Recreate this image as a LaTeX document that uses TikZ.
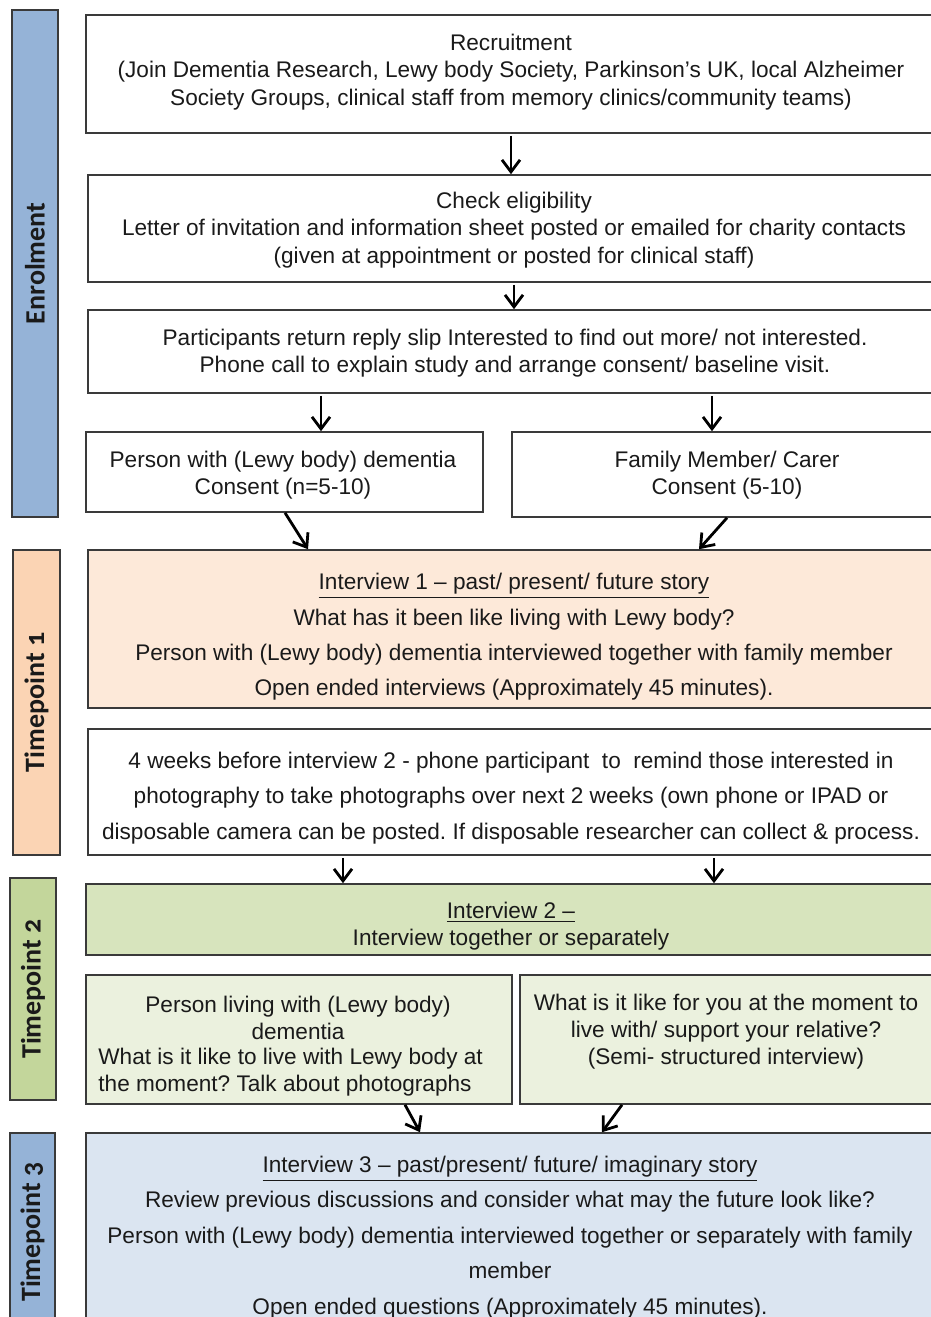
\documentclass[tikz,border=0pt]{standalone}
\usepackage{fontspec}
\setmainfont{Liberation Sans}
\newfontfamily\calib[Numbers=OldStyle]{Carlito}
\usetikzlibrary{arrows.meta,fit}
\frenchspacing
\definecolor{sideblue}{HTML}{95B3D7}
\definecolor{sidepeach}{HTML}{FBD4B4}
\definecolor{sidegreen}{HTML}{C3D69B}
\definecolor{lpeach}{HTML}{FDE9D9}
\definecolor{lgreen}{HTML}{D7E4BD}
\definecolor{vlgreen}{HTML}{EBF1DE}
\definecolor{lblue}{HTML}{DBE5F1}
\definecolor{edge}{HTML}{3A3A3A}
\definecolor{ink}{HTML}{1A1A1A}
\tikzset{
  box/.style={draw=edge, line width=0.8pt, inner sep=0pt},
  side/.style={draw=edge, line width=0.9pt, inner sep=0pt},
  txt/.style={align=center, inner sep=0pt, text=ink, font=\frenchspacing\fontsize{11.3}{13.6}\selectfont},
  wtxt/.style={align=center, inner sep=0pt, text=ink, font=\frenchspacing\fontsize{11.3}{17.7}\selectfont},
  sidetxt/.style={rotate=90, inner sep=0pt, text=ink, font=\calib\bfseries\fontsize{14}{16}\selectfont},
  arr/.style={draw=black, line width=1.4pt, -{Straight Barb[length=6pt,width=9pt,line width=1.4pt]}}
}
\begin{document}
\begin{tikzpicture}[x=0.5pt,y=-0.5pt]
\useasboundingbox (0,0) rectangle (931,1317);
\fill[white] (0,0) rectangle (931,1317);
\clip (0,0) rectangle (931,1317);
% sidebars
\node[side, fill=sideblue, fit={(12,10) (58,517)}] (s0) {};
\node[sidetxt] (s0t) at (s0.center) {Enrolment};
\node[side, fill=sidepeach, fit={(13,550) (60,855)}] (s1) {};
\node[sidetxt] (s1t) at (s1.center) {Timepoint 1};
\node[side, fill=sidegreen, fit={(10,878) (56,1100)}] (s2) {};
\node[sidetxt] (s2t) at (s2.center) {Timepoint 2};
\node[side, fill=sideblue, fit={(10,1133) (55,1340)}] (s3) {};
\node[sidetxt] (s3t) at (32.5,1232) {Timepoint 3};
% boxes
\node[box, fit={(86,15) (945,133)}] (b1) {};
\node[txt] (t1) at (511,72) {Recruitment\\(Join Dementia Research, Lewy body Society, Parkinson’s UK, local Alzheimer\\Society Groups, clinical staff from memory clinics/community teams)};
\node[box, fit={(88,175) (945,282)}] (b2) {};
\node[txt] (t2) at (514,230) {Check eligibility\\Letter of invitation and information sheet posted or emailed for charity contacts\\(given at appointment or posted for clinical staff)};
\node[box, fit={(88,310) (945,393)}] (b3) {};
\node[txt] (t3) at (515,353) {Participants return reply slip Interested to find out more/ not interested.\\Phone call to explain study and arrange consent/ baseline visit.};
\node[box, fit={(86,432) (483,512)}] (b4a) {};
\node[txt] (t4a) at (283,475) {Person with (Lewy body) dementia\\Consent (n=5-10)};
\node[box, fit={(512,432) (945,517)}] (b4b) {};
\node[txt] (t4b) at (727,475) {Family Member/ Carer\\Consent (5-10)};
\node[box, fill=lpeach, fit={(88,550) (945,708)}] (b5) {};
\node[wtxt] (t5) at (514,637) {\underline{Interview 1 – past/ present/ future story}\\What has it been like living with Lewy body?\\Person with (Lewy body) dementia interviewed together with family member\\Open ended interviews (Approximately 45 minutes).};
\node[box, fit={(88,729) (945,855)}] (b6) {};
\node[wtxt] (t6) at (511,798) {4 weeks before interview 2 - phone participant\ \ to\ \ remind those interested in\\photography to take photographs over next 2 weeks (own phone or IPAD or\\disposable camera can be posted. If disposable researcher can collect \& process.};
\node[box, fill=lgreen, fit={(86,884) (945,955)}] (b7) {};
\node[txt] (t7) at (511,926) {\underline{Interview 2 –}\\Interview together or separately};
\node[box, fill=vlgreen, fit={(86,975) (512,1104)}] (b8a) {};
\node[txt] (t8a) at (298,1018) {Person living with (Lewy body)\\dementia};
\node[txt, align=left, anchor=west] (t8c) at (98,1072.5) {What is it like to live with Lewy body at\\the moment? Talk about photographs};
\node[box, fill=vlgreen, fit={(520,975) (945,1104)}] (b8b) {};
\node[txt] (t8b) at (726,1031.5) {What is it like for you at the moment to\\live with/ support your relative?\\(Semi- structured interview)};
\node[box, fill=lblue, fit={(86,1133) (945,1340)}] (b9) {};
\node[wtxt] (t9) at (510,1237.5) {\underline{Interview 3 – past/present/ future/ imaginary story}\\Review previous discussions and consider what may the future look like?\\Person with (Lewy body) dementia interviewed together or separately with family\\member\\Open ended questions (Approximately 45 minutes).};
% x guides
\coordinate (x511) at (511,0);
\coordinate (x514) at (514,0);
\coordinate (x321) at (321,0);
\coordinate (x712) at (712,0);
\coordinate (x285) at (285,0);
\coordinate (x308) at (308,0);
\coordinate (x727) at (727,0);
\coordinate (x699) at (699,0);
\coordinate (x343) at (343,0);
\coordinate (x714) at (714,0);
\coordinate (x405) at (405,0);
\coordinate (x420) at (420,0);
\coordinate (x622) at (622,0);
\coordinate (x602) at (602,0);
% arrows
\draw[arr] (b1.south -| x511) ++(0,2) -- (b2.north -| x511);
\draw[arr] (b2.south -| x514) ++(0,2) -- (b3.north -| x514);
\draw[arr] (b3.south -| x321) ++(0,2) -- (b4a.north -| x321);
\draw[arr] (b3.south -| x712) ++(0,2) -- (b4b.north -| x712);
\draw[arr] (b4a.south -| x285) -- (b5.north -| x308);
\draw[arr] (b4b.south -| x727) -- (b5.north -| x699);
\draw[arr] (b6.south -| x343) ++(0,2) -- (b7.north -| x343);
\draw[arr] (b6.south -| x714) ++(0,2) -- (b7.north -| x714);
\draw[arr] (b8a.south -| x405) -- (b9.north -| x420);
\draw[arr] (b8b.south -| x622) -- (b9.north -| x602);
\end{tikzpicture}
\end{document}
